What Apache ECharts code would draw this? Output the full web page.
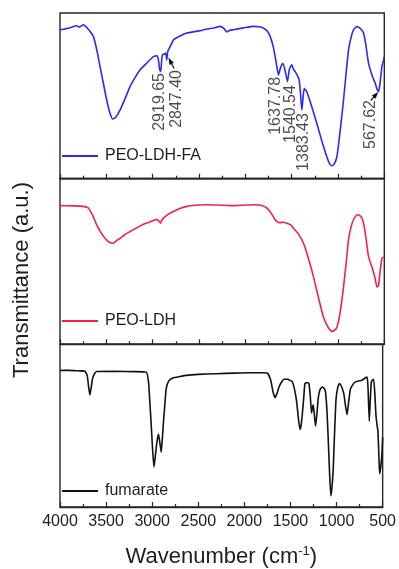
<!DOCTYPE html>
<html><head><meta charset="utf-8">
<script src="https://cdn.jsdelivr.net/npm/echarts@6/dist/echarts.min.js"></script>
<style>html,body{margin:0;padding:0;background:#fff}#c{width:399px;height:569px}</style>
</head><body><div id="c"></div>
<script>
// Wavenumber (cm-1) and transmittance (a.u., % of panel height)
const faWn = [4000,3900,3820,3790,3748,3720,3700,3676,3640,3600,3568,3530,3496,3460,3431,3400,3352,3300,3244,3190,3136,3060,2992,2950,2938,2925,2913,2905,2895,2870,2859,2848,2838,2830,2800,2776,2700,2632,2500,2416,2340,2272,2230,2200,2170,2128,2000,1912,1850,1804,1760,1732,1700,1678,1655,1642,1620,1595,1570,1545,1525,1498,1480,1462,1440,1419,1405,1390,1380,1365,1350,1336,1280,1228,1170,1120,1090,1066,1040,1012,980,940,910,886,860,832,800,778,750,724,700,670,630,598,575,562,545,526,510,500];
const faT = [89.9,91.0,92.3,91.5,92.9,91.8,90.5,88.9,85.9,77,67.7,57,47.5,39.5,36.0,37.0,41.4,48,55.6,61,65.7,70,73.7,74.2,71.7,66,64.6,70,74.7,75.3,75.8,71.7,76.5,77.8,81,83.8,86.3,87.9,89.2,90.3,91.0,91.9,90.6,88.5,89.5,89.9,91.2,91.9,91.7,90.9,88.9,85.9,80,73.7,66,62.6,67,69.7,65,58.6,66,68.7,66,64.6,62.5,59.6,52,41.4,47,54.5,53.5,52.5,43,33.3,22,13.1,9,7.7,9,13.1,27,47.5,65,77.8,85,89.9,91.8,91.5,90.2,87.9,81,69.7,62,57.6,53.5,52.5,58,67.7,71,73.7];

const ldhWn = [4000,3850,3750,3694,3650,3604,3560,3514,3470,3424,3390,3352,3300,3244,3170,3100,3030,2974,2950,2930,2913,2900,2884,2830,2776,2700,2632,2500,2416,2300,2200,2128,2000,1912,1830,1768,1720,1678,1650,1624,1590,1552,1510,1480,1420,1372,1320,1264,1210,1156,1100,1066,1035,1012,980,940,910,886,860,832,800,778,750,724,700,670,634,600,580,562,545,526,510,500];
const ldhT = [83.6,83.5,83.2,82.2,78,72.0,67.5,63.9,61.5,60.9,62.5,63.9,66.2,68.0,70.3,72.4,73.8,75.1,75.3,74,73.0,75,76.1,78.5,80.1,82,83.2,84,84.2,84,83.7,83.6,84,84.2,83.8,82.2,79,75.1,73.6,73.4,73.6,73.0,72,70.0,66,60.9,52,40.6,28,16.2,9.5,7.7,8.5,10.1,18,34.5,50,62.9,70.5,75.1,77.8,78.1,77,73.0,65,52.7,46.7,40,34.5,35.5,44,51.7,52.5,52.3];

const fumWn = [4000,3900,3800,3730,3705,3690,3676,3660,3647,3625,3604,3400,3200,3064,3040,3028,3010,2999,2981,2968,2956,2940,2931,2918,2902,2890,2877,2860,2848,2820,2776,2700,2632,2500,2308,2100,1948,1800,1750,1714,1690,1667,1645,1624,1600,1570,1530,1480,1455,1433,1415,1397,1385,1372,1355,1343,1320,1300,1285,1271,1262,1253,1240,1228,1212,1199,1180,1156,1135,1120,1105,1091,1075,1062,1050,1037,1020,1005,985,969,950,922,905,886,870,850,820,796,760,724,690,670,660,645,635,623,610,598,585,573,560,551,540,533,520,508,500];
const fumT = [83.9,84.0,83.7,83.5,80.9,74,68.8,74,78.9,82,83.3,83.4,83.2,82.9,77,66.8,50,38.6,24.5,30,36.6,43,44.7,40,33.6,42,52.7,65,72.8,77.5,79.3,80.2,80.9,81.5,81.9,82.3,82.5,82.5,82.3,77.9,71,67.2,70,73.8,76.5,78.5,78.5,76.9,72,64.8,55,47.7,50,56.7,68,75.9,76.5,75.9,68,57.7,61,62.8,56,49.7,58,66.8,72,73.8,73,70.8,60,42.7,20,6.8,12,22.5,48,66.8,74,75.9,74.5,69.8,63,56.7,64,72.4,75.5,76.9,77.5,77.9,79.3,79.9,75,52.7,65,76.9,78,78.5,70,56.7,50,46.7,30,20.5,25,32.6,42.7];

const seriesNames = ['PEO-LDH-FA','PEO-LDH','fumarate'];
const xTicks = [4000,3500,3000,2500,2000,1500,1000,500];

// Peak annotations (top panel): label, wavenumber of label, top of label
const annoText = ['2919.65','2847.40','1637.78','1540.54','1383.43','567.62'];
const annoWn = [2927,2740,1677,1515,1372,651];
const annoTop = [63.8,65.6,61.4,56.5,39.6,47.5];
// Arrows: [tailWn, tailT, headWn, headT]
const arrows = [[2768,66.5,2812,71.2],[646,47.2,590,50.8]];

const FONT = 'Liberation Sans, Arial, Helvetica, sans-serif';
const colors = ['#2a2af5','#f5204c','#111111'];
const tops = [13, 178.5, 344.3];
const H = 165.7;

const chart = echarts.init(document.getElementById('c'), null, {renderer:'canvas'});
const grids = tops.map(t => ({left:60, width:324.3, top:t, height:H, show:true, borderColor:'#262626', borderWidth:1.4, backgroundColor:'transparent'}));
const xAxes = tops.map((t,i) => ({
  gridIndex:i, type:'value', inverse:true, min:500, max:4000, interval:500,
  axisLine:{show:true, lineStyle:{color:'#262626', width:1.4}},
  axisTick:{show:true, inside:true, length:5, lineStyle:{color:'#262626', width:1.2}},
  minorTick:{show:true, splitNumber:2, length:3, lineStyle:{color:'#262626', width:1.2}},
  splitLine:{show:false},
  axisLabel:{show:i===2, color:'#1e1e1e', fontSize:16, fontFamily:FONT, margin:7,
    formatter: v => xTicks.includes(v) ? String(v) : ''},
  name: i===2 ? 'Wavenumber (cm{sup|-1})' : '',
  nameLocation:'middle', nameGap:38,
  nameTextStyle:{color:'#1e1e1e', fontSize:22, fontFamily:FONT,
    rich:{sup:{fontSize:13, fontFamily:FONT, color:'#1e1e1e', padding:[0,0,11,0]}}}
}));
const yAxes = tops.map((t,i) => ({gridIndex:i, type:'value', min:0, max:100, show:false}));

const mk = (wn,t) => wn.map((w,k)=>[w,t[k]]);
const dataSets = [mk(faWn,faT), mk(ldhWn,ldhT), mk(fumWn,fumT)];
const series = dataSets.map((d,i) => ({
  name: seriesNames[i], type:'line', xAxisIndex:i, yAxisIndex:i, data:d,
  symbol:'none', smooth:0.15, lineStyle:{color:colors[i], width:1.6}, itemStyle:{color:colors[i]},
  animation:false,
  markLine: i===0 ? {
    silent:true, symbol:['none','triangle'], symbolSize:[5,7], animation:false,
    label:{show:false}, lineStyle:{color:'#111', width:1.2, type:'solid'},
    data: arrows.map(a => [{coord:[a[0],a[1]]},{coord:[a[2],a[3]]}])
  } : undefined
}));
series.push({
  type:'scatter', xAxisIndex:0, yAxisIndex:0, symbolSize:0, animation:false, silent:true,
  data: annoText.map((s,k)=>[annoWn[k], annoTop[k], s]),
  label:{show:true, position:[0,0], rotate:90, align:'right', verticalAlign:'middle',
    formatter: p => p.value[2], color:'#1e1e1e', fontSize:16, fontFamily:FONT}
});

const legendTops = [148, 313, 483];
const legends = seriesNames.map((n,i) => ({
  data:[{name:n, icon:'rect'}], left:62, top:legendTops[i], padding:0, itemWidth:36, itemHeight:1.8, itemGap:0,
  textStyle:{color:'#1e1e1e', fontSize:16, fontFamily:FONT, padding:[0,0,0,2]},
  selectedMode:false
}));

chart.setOption({
  animation:false,
  backgroundColor:'#fff',
  grid:grids, xAxis:xAxes, yAxis:yAxes, series:series, legend:legends,
  graphic:[{type:'text', x:22, y:280, rotation:Math.PI/2,
    style:{text:'Transmittance (a.u.)', fill:'#1e1e1e', font:'22px '+FONT, textAlign:'center', textVerticalAlign:'middle'}}]
});
</script></body></html>
